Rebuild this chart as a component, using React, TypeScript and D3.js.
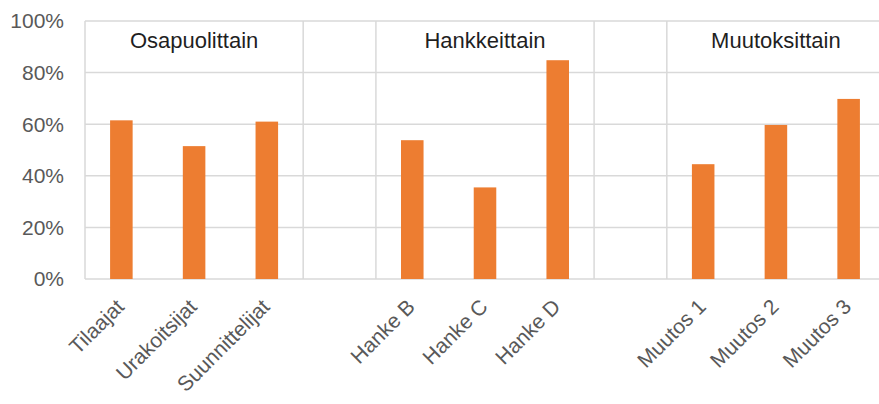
import React from "react";
import * as d3 from "d3";

// chart values
const categories = ["Tilaajat", "Urakoitsijat", "Suunnittelijat", "gap1", "Hanke B", "Hanke C", "Hanke D", "gap2", "Muutos 1", "Muutos 2", "Muutos 3"];
const values = [0.615, 0.515, 0.61, null, 0.538, 0.355, 0.848, null, 0.445, 0.597, 0.698];
const groupTitles = ["Osapuolittain", "Hankkeittain", "Muutoksittain"];
const groupStart = ["Tilaajat", "Hanke B", "Muutos 1"];
const groupEnd = ["Suunnittelijat", "Hanke D", "Muutos 3"];
const yTicks = [0, 0.2, 0.4, 0.6, 0.8, 1];

const App = () => {
  const width = 879;
  const height = 404;
  const left = 85;
  const right = 885; // plot runs past the picture's right edge
  const top = 21;
  const bottom = 279;

  const x = d3.scaleBand<string>().domain(categories).range([left, right]);
  const y = d3.scaleLinear().domain([0, 1]).range([bottom, top]);
  const fmt = d3.format(".0%");
  const barW = x.bandwidth() * 0.31;
  const grid = "#d9d9d9";

  // vertical separators: left edge and both sides of the gap columns
  const vlines = [left];
  categories.forEach(c => {
    if (c.startsWith("gap")) {
      vlines.push(x(c)!, x(c)! + x.bandwidth());
    }
  });

  return (
    <svg width={width} height={height} style={{ position: "absolute", left: 0, top: 0, background: "#fff" }}
      fontFamily="Liberation Sans, Arial, sans-serif">
      {yTicks.map(t => (
        <g key={t}>
          <line x1={left} x2={right} y1={y(t)} y2={y(t)} stroke={grid} strokeWidth={1.5} />
          <text x={64} y={y(t)} dy="0.35em" textAnchor="end" fontSize={21} fill="#595959">{fmt(t)}</text>
        </g>
      ))}
      {vlines.map((v, i) => (
        <line key={i} x1={v} x2={v} y1={top} y2={bottom} stroke={grid} strokeWidth={1.5} />
      ))}
      {groupTitles.map((g, i) => {
        const cx = (x(groupStart[i])! + x(groupEnd[i])! + x.bandwidth()) / 2;
        return (
          <text key={g} x={cx} y={48} textAnchor="middle" fontSize={22} fill="#1f1f1f">{g}</text>
        );
      })}
      {categories.map((c, i) => {
        const v = values[i];
        if (v == null) return null;
        const cx = x(c)! + x.bandwidth() / 2;
        return (
          <g key={c}>
            <rect x={cx - barW / 2} y={y(v)} width={barW} height={y(0) - y(v)} fill="#ED7D31" />
            <text transform={`translate(${cx + 4},${bottom + 29}) rotate(-45)`} textAnchor="end" fontSize={21} fill="#595959">{c}</text>
          </g>
        );
      })}
    </svg>
  );
};

export default App;
